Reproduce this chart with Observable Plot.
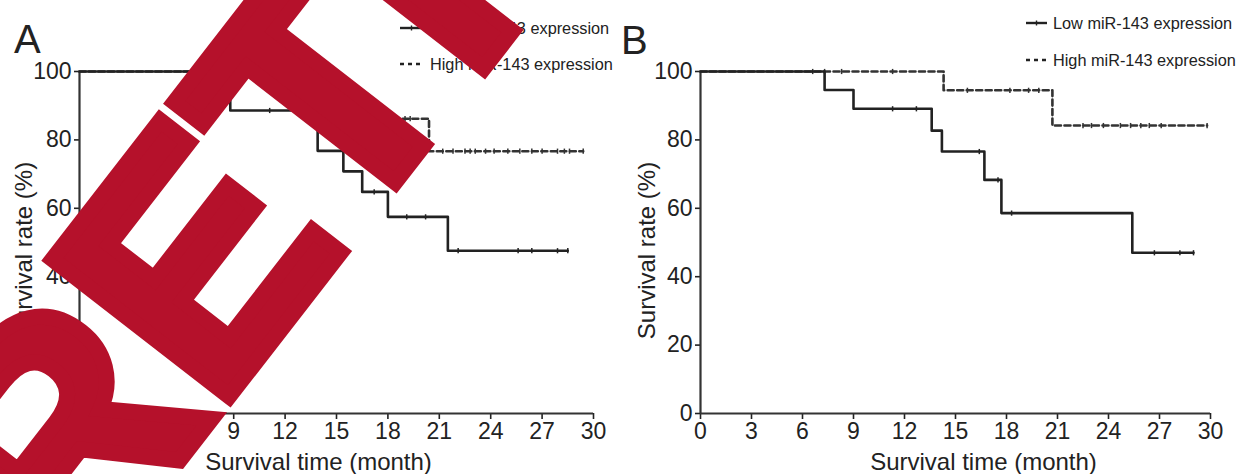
<!DOCTYPE html>
<html>
<head>
<meta charset="utf-8">
<script src="https://cdn.jsdelivr.net/npm/d3@7"></script>
<script src="https://cdn.jsdelivr.net/npm/@observablehq/plot@0.6"></script>
<style>
  html, body { margin: 0; padding: 0; background: #fff; overflow: hidden; }
  #wrap { position: relative; width: 1237px; height: 474px; background: #fff; font-family: "Liberation Sans", Arial, sans-serif; color: #222; }
  .panel { position: absolute; top: 0; }
  .lbl { position: absolute; line-height: 1; white-space: nowrap; }
  .letter { font-size: 40px; }
  .leg { font-size: 16.3px; transform: translateY(-50%); }
  .legsw { position: absolute; }
  #wm { position: absolute; left: 0; top: 0; pointer-events: none; }
</style>
</head>
<body>
<div id="wrap"></div>
<script>
// ---------- data ----------
const xTicks = [0, 3, 6, 9, 12, 15, 18, 21, 24, 27, 30];
const yTicks = [0, 20, 40, 60, 80, 100];
const seriesNames = ["Low miR-143 expression", "High miR-143 expression"];
const panelLetters = ["A", "B"];
const xTitle = "Survival time (month)";
const yTitle = "Survival rate (%)";
const watermark = "RETRACTED";

// Panel A
const aLowTime   = [0, 8.8, 13.9, 15.4, 16.5, 18.0, 21.5, 28.5];
const aLowSurv   = [100, 88.6, 76.8, 70.8, 64.8, 57.5, 47.6, 47.6];
const aLowCensor = [11.1, 17.2, 19.1, 20.2, 22.1, 25.6, 26.4, 27.9, 28.5];
const aHighTime  = [0, 12.0, 16.0, 20.4, 29.4];
const aHighSurv  = [100, 93.1, 86.2, 76.7, 76.7];
const aHighCensor = [19.0, 19.3, 21.2, 21.8, 22.5, 22.8, 23.1, 23.7, 24.2, 25.0, 25.7, 26.4, 27.0, 27.9, 28.3, 28.6, 29.4];

// Panel B
const bLowTime   = [0, 7.3, 9.0, 13.6, 14.2, 16.7, 17.7, 25.4, 29.0];
const bLowSurv   = [100, 94.6, 89.1, 82.7, 76.6, 68.3, 58.6, 47.0, 47.0];
const bLowCensor = [11.3, 12.7, 16.4, 17.5, 18.3, 26.7, 28.2, 29.0];
const bHighTime  = [0, 14.3, 20.7, 29.8];
const bHighSurv  = [100, 94.5, 84.2, 84.2];
const bHighCensor = [6.6, 7.3, 8.3, 11.3, 15.7, 18.2, 19.3, 19.9, 22.5, 23.0, 23.7, 24.7, 25.3, 25.9, 26.4, 27.1, 29.8];

// ---------- helpers ----------
const INK = "#222";
const levelAt = (times, surv, t) => {
  let v = surv[0];
  for (let i = 0; i < times.length; i++) if (times[i] <= t) v = surv[i];
  return v;
};
const steps = (times, surv) => times.map((t, i) => ({t, s: surv[i]}));
const censors = (cs, times, surv) => cs.map(t => ({t, s: levelAt(times, surv, t)}));
const tickSymbol = {
  draw(ctx, size) {
    const h = Math.sqrt(size / Math.PI);
    ctx.moveTo(0, -h); ctx.lineTo(0, h);
  }
};

function panel(cfg) {
  const low = steps(cfg.lowT, cfg.lowS), high = steps(cfg.highT, cfg.highS);
  const lowC = censors(cfg.lowC, cfg.lowT, cfg.lowS), highC = censors(cfg.highC, cfg.highT, cfg.highS);
  return Plot.plot({
    width: cfg.width, height: 474,
    marginLeft: cfg.ml, marginRight: cfg.mr, marginTop: 71, marginBottom: 61,
    x: {domain: [0, 30]},
    y: {domain: [0, 100]},
    style: {fontFamily: '"Liberation Sans", Arial, sans-serif', color: INK, background: "transparent", overflow: "visible"},
    marks: [
      Plot.axisX({ticks: xTicks, tickSize: 6, tickPadding: 3, fontSize: 23, label: null, strokeWidth: 1.6}),
      Plot.axisY({ticks: yTicks, tickSize: 5, tickPadding: 3, fontSize: 23, label: null, strokeWidth: 1.6}),
      Plot.ruleX([0], {stroke: "#333", strokeWidth: 2.2}),
      Plot.ruleY([0], {stroke: "#333", strokeWidth: 2.2}),
      Plot.line(high, {x: "t", y: "s", curve: "step-after", stroke: "#333", strokeWidth: 2.6, strokeDasharray: "6,3.5"}),
      Plot.dot(highC, {x: "t", y: "s", symbol: tickSymbol, r: 2.6, stroke: "#333", strokeWidth: 1.5, fill: "none"}),
      Plot.line(low, {x: "t", y: "s", curve: "step-after", stroke: INK, strokeWidth: 2.6}),
      Plot.dot(lowC, {x: "t", y: "s", symbol: tickSymbol, r: 2.6, stroke: INK, strokeWidth: 1.5, fill: "none"}),
      Plot.text([xTitle], {text: d => d, frameAnchor: "bottom", textAnchor: "middle", lineAnchor: "middle", dx: cfg.xdx, dy: 49, fontSize: 24, fill: INK}),
      Plot.text([yTitle], {text: d => d, frameAnchor: "left", textAnchor: "middle", lineAnchor: "middle", rotate: -90, dx: cfg.ydx, dy: 8, fontSize: 24, fill: INK})
    ]
  });
}

const wrap = document.getElementById("wrap");

function addPanel(left, cfg) {
  const d = document.createElement("div");
  d.className = "panel";
  d.style.left = left + "px";
  d.appendChild(panel(cfg));
  wrap.appendChild(d);
}

addPanel(0, {width: 620, ml: 79, mr: 27, lowT: aLowTime, lowS: aLowSurv, lowC: aLowCensor,
  highT: aHighTime, highS: aHighSurv, highC: aHighCensor, xdx: -18, ydx: -55});
addPanel(620, {width: 617, ml: 80, mr: 27, lowT: bLowTime, lowS: bLowSurv, lowC: bLowCensor,
  highT: bHighTime, highS: bHighSurv, highC: bHighCensor, xdx: 28, ydx: -53});

function addText(cls, txt, x, y) {
  const s = document.createElement("div");
  s.className = "lbl " + cls;
  s.textContent = txt;
  s.style.left = x + "px";
  s.style.top = y + "px";
  wrap.appendChild(s);
}
function addSwatch(x, y, w, dashed) {
  const ns = "http://www.w3.org/2000/svg";
  const svg = document.createElementNS(ns, "svg");
  svg.setAttribute("width", w); svg.setAttribute("height", 10);
  svg.setAttribute("class", "legsw");
  svg.style.left = x + "px"; svg.style.top = (y - 5) + "px";
  const l = document.createElementNS(ns, "line");
  l.setAttribute("x1", 0); l.setAttribute("x2", w); l.setAttribute("y1", 5); l.setAttribute("y2", 5);
  l.setAttribute("stroke", INK); l.setAttribute("stroke-width", 2.4);
  if (dashed) l.setAttribute("stroke-dasharray", "4,4");
  svg.appendChild(l);
  if (!dashed) {
    const t = document.createElementNS(ns, "line");
    t.setAttribute("x1", w / 2); t.setAttribute("x2", w / 2); t.setAttribute("y1", 2.5); t.setAttribute("y2", 7.5);
    t.setAttribute("stroke", INK); t.setAttribute("stroke-width", 1.4);
    svg.appendChild(t);
  }
  wrap.appendChild(svg);
}

// panel letters
addText("letter", panelLetters[0], 14, 19);
addText("letter", panelLetters[1], 621, 20);
// legends
addSwatch(400, 28, 23, false); addText("leg", seriesNames[0], 430, 28);
addSwatch(400, 64, 23, true);  addText("leg", seriesNames[1], 430, 64);
addSwatch(1026, 23, 21, false); addText("leg", seriesNames[0], 1053, 23);
addSwatch(1026, 60, 21, true);  addText("leg", seriesNames[1], 1053, 60);

// watermark overlay
(function () {
  const ns = "http://www.w3.org/2000/svg";
  const svg = document.createElementNS(ns, "svg");
  svg.setAttribute("id", "wm");
  svg.setAttribute("width", 1237); svg.setAttribute("height", 474);
  const t = document.createElementNS(ns, "text");
  t.setAttribute("x", 72); t.setAttribute("y", 599);
  t.setAttribute("transform", "rotate(-52.2 72 599)");
  t.setAttribute("font-family", '"Liberation Sans", Arial, sans-serif');
  t.setAttribute("font-weight", "bold");
  t.setAttribute("font-size", 325);
  t.setAttribute("fill", "#b5112b");
  t.setAttribute("stroke", "#b5112b");
  t.setAttribute("stroke-width", 16);
  t.setAttribute("stroke-linejoin", "miter");
  t.textContent = watermark;
  svg.appendChild(t);
  wrap.appendChild(svg);
})();
</script>
</body>
</html>
